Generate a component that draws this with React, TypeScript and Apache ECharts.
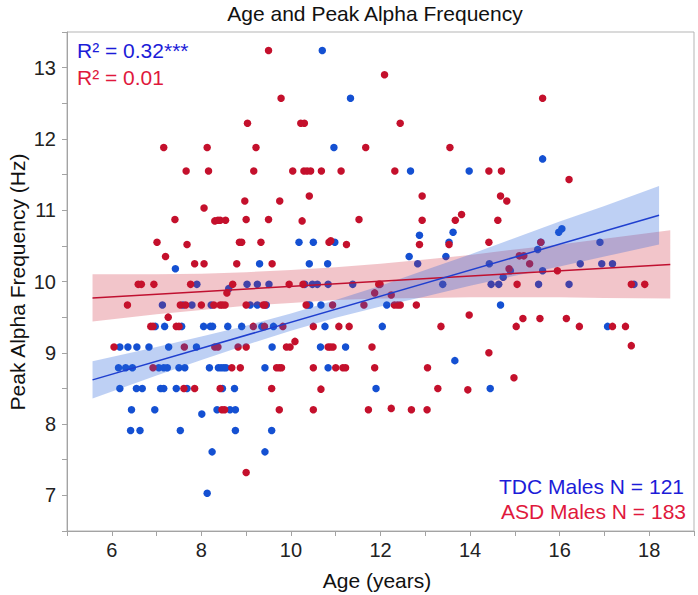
import React, { useEffect, useRef } from "react";
import * as echarts from "echarts";

// TDC males: [age (years), peak alpha frequency (Hz)]
const tdcPoints: number[][] = [
  [10.70, 13.24], [11.33, 12.57], [10.96, 11.88], [15.62, 11.72], [12.67, 11.55], [13.98, 11.55],
  [10.18, 10.55], [10.50, 10.55], [10.98, 10.55], [12.87, 10.65], [13.62, 10.69], [13.53, 10.55],
  [15.98, 10.69], [16.05, 10.74], [15.58, 10.55], [16.90, 10.55],
  [7.42, 10.18], [9.30, 10.25], [10.41, 10.25], [10.82, 10.25], [12.64, 10.35], [13.46, 10.35],
  [12.83, 10.25], [14.43, 10.25], [15.51, 10.45], [16.46, 10.25], [16.94, 10.25], [17.18, 10.25],
  [14.90, 10.15], [15.62, 10.15], [14.74, 10.06],
  [7.90, 9.96], [8.61, 9.90], [9.02, 9.96], [9.25, 9.96], [9.51, 9.96], [10.31, 9.96], [10.48, 9.96],
  [10.59, 9.96], [10.83, 9.96], [11.38, 9.96], [13.39, 9.96], [14.47, 9.96], [14.64, 9.96],
  [15.53, 9.96], [16.21, 9.96], [17.66, 9.96],
  [7.13, 9.67], [7.59, 9.67], [7.79, 9.67], [8.22, 9.67], [9.09, 9.67], [9.25, 9.67], [9.45, 9.67],
  [10.38, 9.67], [10.42, 9.67], [10.67, 9.67], [12.14, 9.67], [14.68, 9.67],
  [6.97, 9.37], [7.18, 9.37], [7.56, 9.37], [8.05, 9.37], [8.20, 9.37], [8.25, 9.37], [8.59, 9.37],
  [8.90, 9.37], [9.35, 9.37], [9.61, 9.37], [10.76, 9.37], [12.04, 9.37], [17.07, 9.37],
  [6.18, 9.08], [6.36, 9.08], [6.56, 9.08], [6.83, 9.08], [7.27, 9.08], [7.89, 9.08], [9.58, 9.08],
  [10.66, 9.08], [11.22, 9.08], [13.66, 8.89],
  [6.15, 8.79], [6.31, 8.79], [6.46, 8.79], [7.05, 8.79], [7.16, 8.79], [7.24, 8.79], [7.50, 8.79],
  [7.63, 8.79], [8.18, 8.79], [8.38, 8.79], [8.44, 8.79], [8.50, 8.79], [8.55, 8.79], [9.42, 8.79],
  [10.83, 8.79],
  [6.18, 8.50], [6.55, 8.50], [6.68, 8.50], [7.09, 8.50], [7.16, 8.50], [7.44, 8.50], [7.68, 8.50],
  [8.47, 8.50], [8.74, 8.50], [11.90, 8.50], [14.45, 8.50],
  [6.44, 8.20], [6.96, 8.20], [8.35, 8.20], [8.64, 8.20], [8.76, 8.20], [8.01, 8.14],
  [6.42, 7.91], [6.63, 7.91], [7.53, 7.91], [8.76, 7.91], [9.57, 7.91],
  [8.24, 7.61], [9.42, 7.61], [8.13, 7.03],
];

// ASD males: [age (years), peak alpha frequency (Hz)]
const asdPoints: number[][] = [
  [9.50, 13.24], [12.09, 12.90], [9.78, 12.57], [15.62, 12.57], [9.03, 12.22], [10.22, 12.22],
  [10.30, 12.22], [12.44, 12.22],
  [7.16, 11.88], [8.13, 11.88], [9.22, 11.88], [11.67, 11.88], [13.55, 11.88],
  [7.66, 11.55], [8.16, 11.55], [9.17, 11.55], [10.04, 11.55], [10.29, 11.55], [10.36, 11.55],
  [10.44, 11.55], [10.68, 11.55], [11.12, 11.55], [12.32, 11.55], [14.42, 11.55], [14.70, 11.55],
  [16.21, 11.43],
  [10.41, 11.20], [8.97, 11.13], [9.75, 11.13], [8.06, 11.03], [12.93, 11.20], [14.68, 11.20],
  [14.82, 11.13],
  [7.41, 10.87], [8.30, 10.85], [8.37, 10.86], [8.42, 10.86], [8.54, 10.86], [9.00, 10.87],
  [9.50, 10.87], [10.25, 10.85], [11.52, 10.87], [12.93, 10.86], [13.67, 10.86], [13.81, 10.94],
  [14.62, 10.86],
  [7.01, 10.55], [7.68, 10.52], [8.85, 10.55], [8.90, 10.55], [9.33, 10.55], [10.85, 10.55],
  [10.89, 10.57], [11.24, 10.52], [12.87, 10.52], [13.53, 10.52], [14.42, 10.55], [15.58, 10.55],
  [7.20, 10.35], [7.85, 10.25], [8.06, 10.25], [8.79, 10.25], [9.58, 10.25], [15.10, 10.36],
  [15.20, 10.36], [15.33, 10.25], [14.87, 10.18], [15.95, 10.15],
  [6.59, 9.96], [6.66, 9.96], [6.94, 9.96], [7.76, 9.96], [8.70, 9.96], [9.96, 9.96], [10.27, 9.96],
  [11.96, 9.96], [11.99, 9.96], [15.05, 9.96], [17.60, 9.96], [17.90, 9.96], [8.57, 9.84],
  [11.87, 9.84], [12.24, 9.81],
  [6.35, 9.67], [7.53, 9.67], [7.65, 9.67], [8.00, 9.67], [8.28, 9.67], [8.42, 9.67], [8.47, 9.67],
  [8.53, 9.67], [9.00, 9.67], [9.38, 9.67], [9.42, 9.67], [10.34, 9.67], [10.93, 9.67], [11.63, 9.67],
  [12.31, 9.67], [12.38, 9.67], [12.44, 9.67], [12.80, 9.67],
  [7.26, 9.50], [13.98, 9.53], [15.18, 9.48], [15.56, 9.48], [16.15, 9.48],
  [6.87, 9.37], [6.92, 9.37], [7.44, 9.37], [7.50, 9.37], [9.16, 9.37], [9.41, 9.37], [9.82, 9.37],
  [10.50, 9.37], [11.07, 9.37], [11.30, 9.37], [13.35, 9.37], [15.03, 9.37], [16.44, 9.37],
  [17.18, 9.37], [17.47, 9.37],
  [6.05, 9.08], [7.62, 9.08], [8.30, 9.08], [8.37, 9.08], [8.82, 9.08], [9.00, 9.08], [9.90, 9.08],
  [9.98, 9.08], [10.09, 9.16], [10.83, 9.08], [10.88, 9.08], [10.94, 9.08], [11.81, 9.08],
  [14.42, 9.00], [17.60, 9.10],
  [6.92, 8.79], [8.68, 8.79], [8.87, 8.79], [9.68, 8.79], [9.74, 8.79], [9.79, 8.79], [10.50, 8.79],
  [11.00, 8.79], [11.16, 8.79], [11.22, 8.79], [11.87, 8.79], [13.05, 8.79], [14.98, 8.65],
  [7.61, 8.50], [7.85, 8.50], [8.42, 8.50], [9.57, 8.50], [10.67, 8.49], [13.28, 8.50], [13.95, 8.48],
  [8.46, 8.20], [8.52, 8.20], [9.74, 8.20], [10.50, 8.20], [11.73, 8.20], [12.24, 8.22],
  [12.69, 8.20], [13.04, 8.20],
  [9.00, 7.32],
];

// Fitted lines (endpoints)
const tdcFitX = [5.57, 18.22];
const tdcFitY = [8.62, 10.93];
const asdFitX = [5.57, 18.47];
const asdFitY = [9.77, 10.24];

// Confidence bands
const tdcBandX = [5.57, 7, 8, 9, 10, 11, 12, 13, 14, 15, 16, 17, 18.22];
const tdcBandLow = [8.36, 8.68, 8.90, 9.11, 9.31, 9.49, 9.65, 9.79, 9.94, 10.08, 10.21, 10.35, 10.52];
const tdcBandHigh = [8.88, 9.08, 9.23, 9.38, 9.55, 9.74, 9.94, 10.16, 10.38, 10.61, 10.84, 11.06, 11.34];
const asdBandX = [5.57, 7, 8, 9, 10, 11, 12, 13, 14, 15, 16, 17, 18.47];
const asdBandLow = [9.44, 9.54, 9.60, 9.66, 9.70, 9.74, 9.76, 9.77, 9.78, 9.78, 9.78, 9.77, 9.76];
const asdBandHigh = [10.10, 10.10, 10.11, 10.13, 10.16, 10.20, 10.25, 10.31, 10.37, 10.45, 10.52, 10.60, 10.72];

const FONT = "'Liberation Sans', Arial, Helvetica, sans-serif";
const BLUE_DOT = "#1450d2";
const RED_DOT = "#c4102c";
const BLUE_TEXT = "#1c1cd8";
const RED_TEXT = "#e0183c";

function bandSeries(xs: number[], lo: number[], hi: number[], fill: string) {
  return {
    type: "custom",
    silent: true,
    z: 3,
    clip: true,
    data: [[xs[0], lo[0]]],
    encode: { x: 0, y: 1 },
    renderItem: (_params: any, api: any) => {
      const pts: number[][] = [];
      for (let i = 0; i < xs.length; i++) pts.push(api.coord([xs[i], hi[i]]));
      for (let i = xs.length - 1; i >= 0; i--) pts.push(api.coord([xs[i], lo[i]]));
      return { type: "polygon", shape: { points: pts }, style: { fill } };
    },
  };
}

export default function App() {
  const ref = useRef<HTMLDivElement>(null);
  useEffect(() => {
    if (!ref.current) return;
    const chart = echarts.init(ref.current, null, { renderer: "svg" });
    const axisGrey = "#a3a3a3";
    chart.setOption({
      animation: false,
      backgroundColor: "#ffffff",
      grid: {
        left: 67,
        top: 32,
        right: 4,
        bottom: 64,
        show: true,
        borderColor: "#b5b5b5",
        borderWidth: 1,
        backgroundColor: "transparent",
      },
      xAxis: {
        type: "value",
        min: 5,
        max: 19,
        interval: 1,
        axisLine: { show: true, lineStyle: { color: axisGrey, width: 1 } },
        axisTick: { show: true, length: 5, lineStyle: { color: axisGrey } },
        splitLine: { show: false },
        axisLabel: {
          margin: 9,
          color: "#222",
          fontSize: 20,
          fontFamily: FONT,
          formatter: (v: number) => (v % 2 === 0 ? String(v) : ""),
        },
      },
      yAxis: {
        type: "value",
        min: 6.5,
        max: 13.5,
        interval: 0.5,
        axisLine: { show: true, lineStyle: { color: axisGrey, width: 1 } },
        axisTick: { show: true, length: 5, lineStyle: { color: axisGrey } },
        splitLine: { show: false },
        axisLabel: {
          margin: 11,
          color: "#222",
          fontSize: 20,
          fontFamily: FONT,
          formatter: (v: number) => (Math.abs(v - Math.round(v)) < 1e-6 ? String(Math.round(v)) : ""),
        },
      },
      series: [
        {
          name: "TDC",
          type: "scatter",
          z: 2,
          symbolSize: 7.5,
          itemStyle: { color: BLUE_DOT, opacity: 1 },
          data: tdcPoints,
        },
        {
          name: "ASD",
          type: "scatter",
          z: 2,
          symbolSize: 7.5,
          itemStyle: { color: RED_DOT, opacity: 1 },
          data: asdPoints,
        },
        bandSeries(asdBandX, asdBandLow, asdBandHigh, "rgba(205, 25, 45, 0.25)"),
        bandSeries(tdcBandX, tdcBandLow, tdcBandHigh, "rgba(40, 100, 220, 0.3)"),
        {
          type: "line",
          z: 4,
          silent: true,
          showSymbol: false,
          lineStyle: { color: "#c01030", width: 1.5 },
          data: asdFitX.map((x, i) => [x, asdFitY[i]]),
        },
        {
          type: "line",
          z: 4,
          silent: true,
          showSymbol: false,
          lineStyle: { color: "#1f3fcf", width: 1.5 },
          data: tdcFitX.map((x, i) => [x, tdcFitY[i]]),
        },
      ],
      graphic: [
        {
          type: "text",
          x: 375,
          y: 13,
          style: {
            text: "Age and Peak Alpha Frequency",
            fill: "#111",
            font: `21px ${FONT}`,
            textAlign: "center",
            textVerticalAlign: "middle",
          },
        },
        {
          type: "text",
          x: 77,
          y: 50,
          z: 10,
          style: {
            text: "R\u00B2 = 0.32***",
            fill: BLUE_TEXT,
            font: `21px ${FONT}`,
            textAlign: "left",
            textVerticalAlign: "middle",
          },
        },
        {
          type: "text",
          x: 77,
          y: 77,
          z: 10,
          style: {
            text: "R\u00B2 = 0.01",
            fill: RED_TEXT,
            font: `21px ${FONT}`,
            textAlign: "left",
            textVerticalAlign: "middle",
          },
        },
        {
          type: "text",
          x: 684,
          y: 486,
          z: 10,
          style: {
            text: "TDC Males N = 121",
            fill: BLUE_TEXT,
            font: `21px ${FONT}`,
            textAlign: "right",
            textVerticalAlign: "middle",
          },
        },
        {
          type: "text",
          x: 686,
          y: 511,
          z: 10,
          style: {
            text: "ASD Males N = 183",
            fill: RED_TEXT,
            font: `21px ${FONT}`,
            textAlign: "right",
            textVerticalAlign: "middle",
          },
        },
        {
          type: "text",
          x: 377,
          y: 580,
          style: {
            text: "Age (years)",
            fill: "#111",
            font: `21px ${FONT}`,
            textAlign: "center",
            textVerticalAlign: "middle",
          },
        },
        {
          type: "text",
          x: 17,
          y: 282,
          rotation: Math.PI / 2,
          style: {
            text: "Peak Alpha Frequency (Hz)",
            fill: "#111",
            font: `21px ${FONT}`,
            textAlign: "center",
            textVerticalAlign: "middle",
          },
        },
      ],
    });
    return () => chart.dispose();
  }, []);
  return (
    <div
      ref={ref}
      style={{ position: "fixed", left: 0, top: 0, width: 698, height: 595, background: "#fff" }}
    />
  );
}
